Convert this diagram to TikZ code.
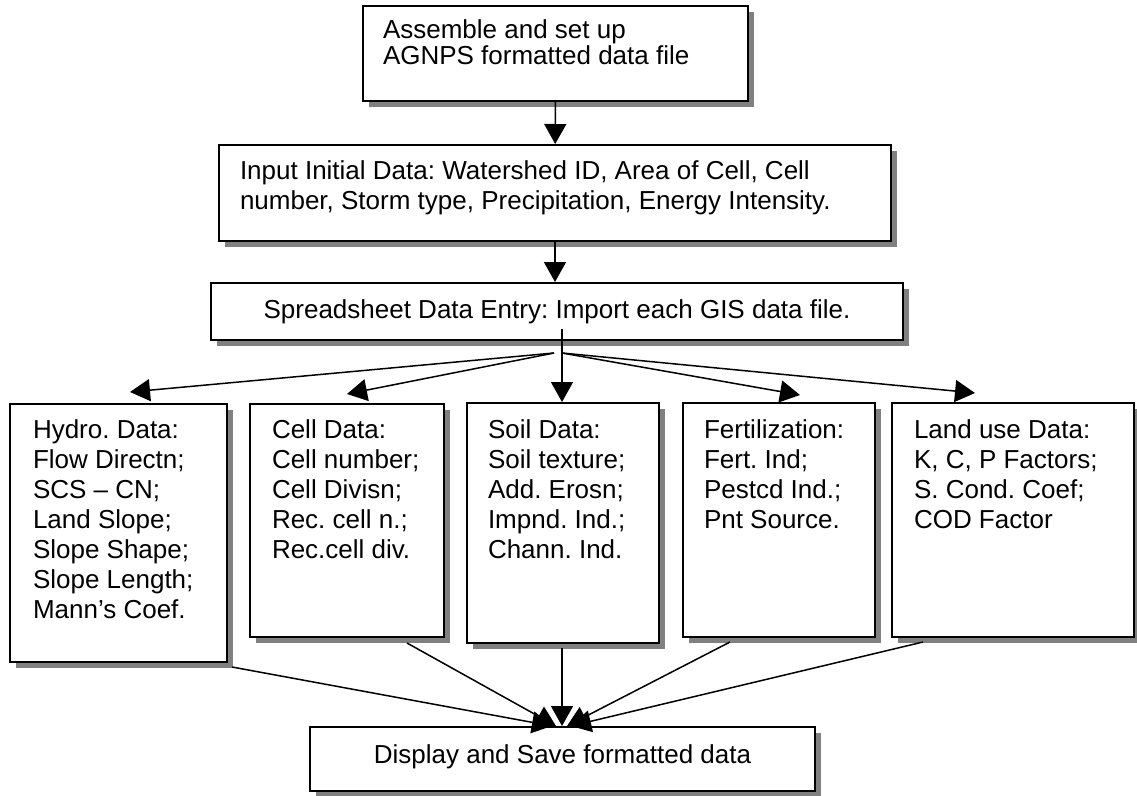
\documentclass[tikz,border=0pt]{standalone}
\usepackage{fontspec}
\setmainfont{Liberation Sans}
\usetikzlibrary{arrows.meta,shadows,calc}
\definecolor{shgray}{RGB}{128,128,128}
\frenchspacing
% width, height, first-baseline offset, setup, text
\newcommand{\bx}[5]{\parbox[b][#2pt][t]{#1pt}{\fontsize{26}{30}\selectfont\frenchspacing#4\parindent=0pt\vskip\dimexpr#3pt-22pt\relax\rule{0pt}{22pt}#5\par}}
\begin{document}
\begin{tikzpicture}[x=1pt,y=-1pt,
  box/.style={draw, line width=2pt, fill=white, inner sep=0pt, anchor=north west,
    general shadow={fill=shgray, shadow xshift=6pt, shadow yshift=-6pt}},
  conn/.style={line width=1.5pt},
  arr/.style={conn, -{Triangle[length=20pt,width=22pt]}}]
\useasboundingbox (0,0) rectangle (1137,795);

\node[box] (top) at (362,5) {\bx{385}{95}{32}{\raggedright\leftskip=20pt\baselineskip=26pt}{Assemble and set up\\AGNPS formatted data file}};
\node[box] (init) at (218,144) {\bx{672}{96}{34}{\raggedright\leftskip=21pt}{Input Initial Data: Watershed ID, Area of Cell, Cell\\number, Storm type, Precipitation, Energy Intensity.}};
\node[box] (spread) at (210,282) {\bx{692}{57}{35}{\centering}{Spreadsheet Data Entry: Import each GIS data file.}};
\node[box] (hydro) at (9,403) {\bx{217}{258}{34}{\raggedright\leftskip=23pt}{Hydro. Data:\\Flow Directn;\\SCS – CN;\\Land Slope;\\Slope Shape;\\Slope Length;\\Mann’s Coef.}};
\node[box] (cell) at (249,403) {\bx{194}{233}{34}{\raggedright\leftskip=22pt}{Cell Data:\\Cell number;\\Cell Divisn;\\Rec. cell n.;\\Rec.cell div.}};
\node[box] (soil) at (466,402) {\bx{192}{240}{35}{\raggedright\leftskip=21pt}{Soil Data:\\Soil texture;\\Add. Erosn;\\Impnd. Ind.;\\Chann. Ind.}};
\node[box] (fert) at (682,402) {\bx{192}{234}{35}{\raggedright\leftskip=21pt}{Fertilization:\\Fert. Ind;\\Pestcd Ind.;\\Pnt Source.}};
\node[box] (land) at (891,402) {\bx{242}{234}{35}{\raggedright\leftskip=22pt}{Land use Data:\\K, C, P Factors;\\S. Cond. Coef;\\COD Factor}};
\node[box] (final) at (309,726) {\bx{505}{64}{36}{\centering}{Display and Save formatted data}};

\draw[arr] (top) -- (init);
\draw[arr] (init.south) -- (init.south |- spread.north);

\coordinate (fanL) at (554,353);
\coordinate (fanR) at (562,353);
\coordinate (fanTop) at (562,329);
\coordinate (tipH) at (130,392);
\coordinate (tipC) at (347,394);
\coordinate (tipF) at (800,395);
\coordinate (tipLd) at (975,393);
\draw[arr] (fanL) -- (tipH);
\draw[arr] (fanL) -- (tipC);
\draw[arr] (fanTop) -- (fanTop |- soil.north);
\draw[arr] (fanR) -- (tipF);
\draw[arr] (fanR) -- (tipLd);

\coordinate (bH) at (232,667);
\coordinate (bC) at (407,643);
\coordinate (bS) at (562,648);
\coordinate (bF) at (730,642);
\coordinate (bL) at (923,642);
\coordinate (eH) at (552,726);
\coordinate (eC) at (556,726);
\coordinate (eS) at (562,726);
\coordinate (eF) at (567,726);
\coordinate (eL) at (571,726);
\draw[arr] (bH) -- (eH);
\draw[arr] (bC) -- (eC);
\draw[arr] (bS) -- (eS);
\draw[arr] (bF) -- (eF);
\draw[arr] (bL) -- (eL);
\end{tikzpicture}
\end{document}
